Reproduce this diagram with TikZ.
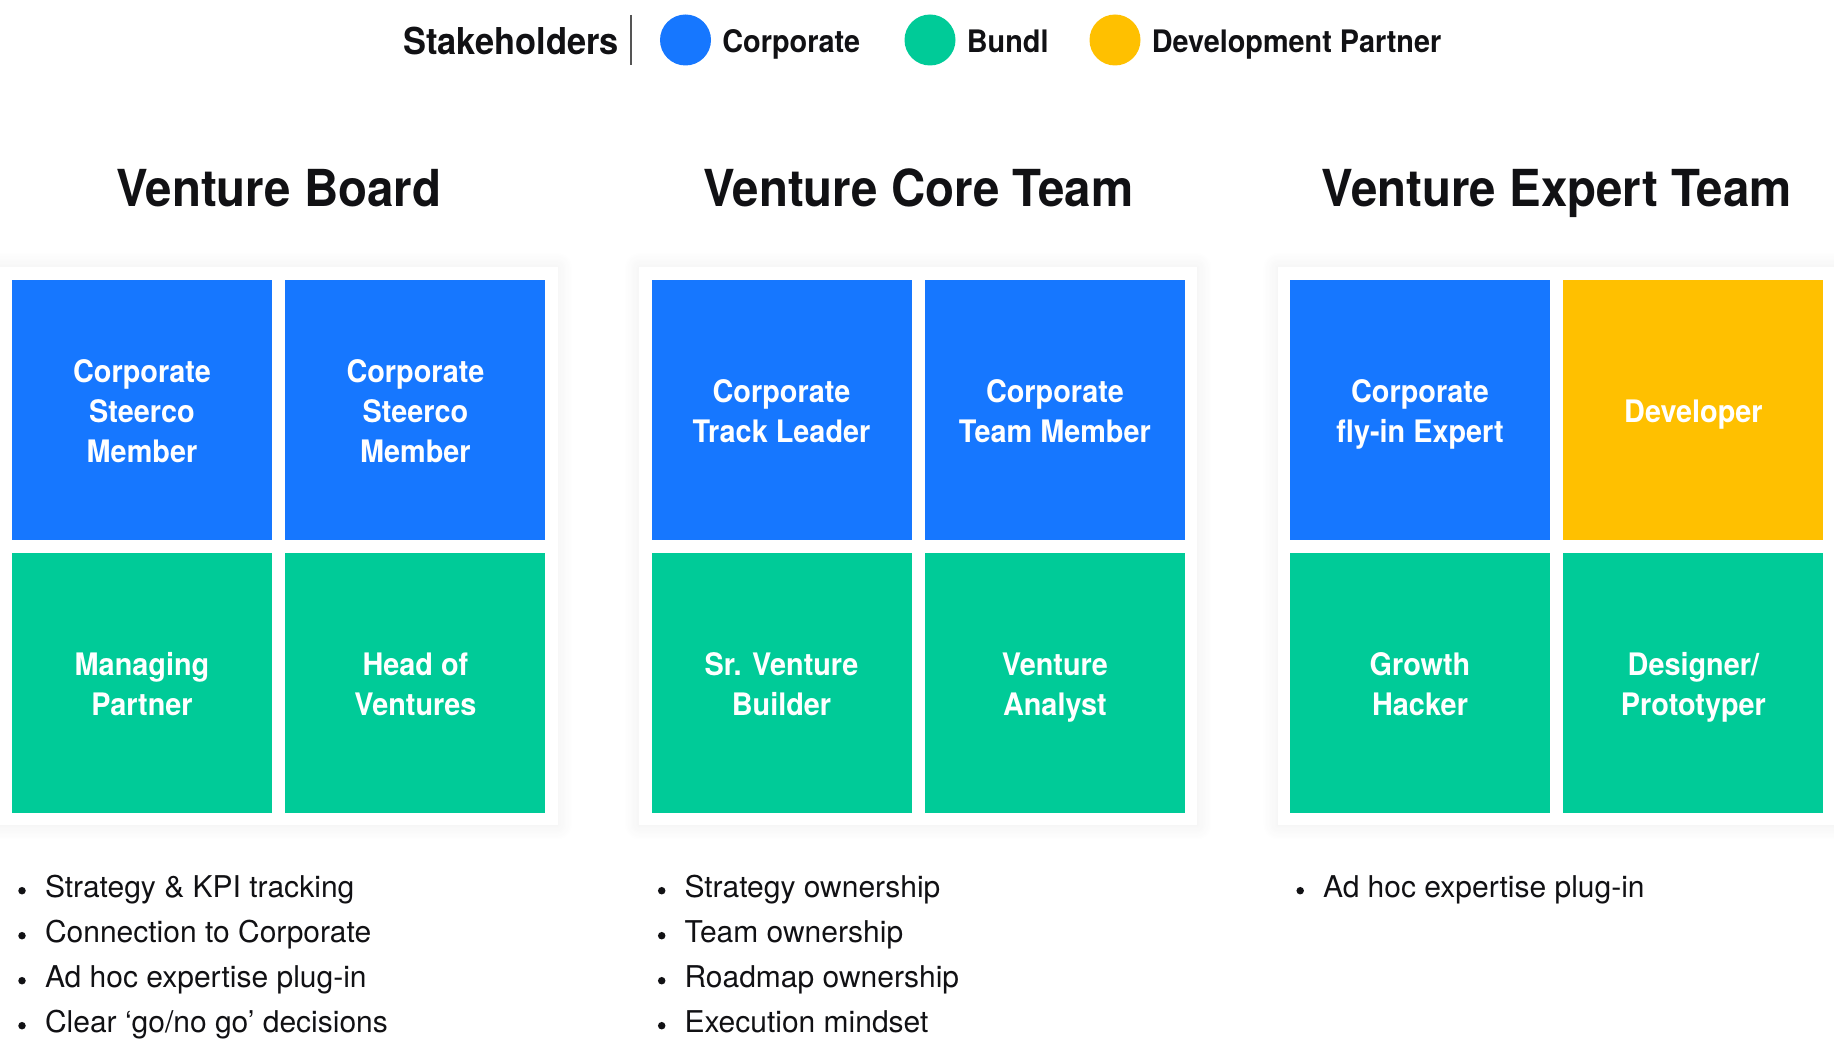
\documentclass[tikz,border=0pt]{standalone}
\usepackage{fontspec}
\setmainfont{TeX Gyre Heros}[BoldFeatures={FakeStretch=0.93}]
\usepackage{tikz}
\usetikzlibrary{positioning,fit,backgrounds,calc,shadows.blur}
\definecolor{Ink}{HTML}{111114}
\definecolor{CorpBlue}{HTML}{1677FF}
\definecolor{BundlGreen}{HTML}{00CB98}
\definecolor{DevYellow}{HTML}{FFC000}
\definecolor{RuleGray}{HTML}{555555}
\newcommand{\topstrut}{\rule{0pt}{34pt}}
\newcommand{\botstrut}{\rule[-8pt]{0pt}{8pt}}

\begin{document}
\begin{tikzpicture}[x=1pt,y=-1pt,
    role/.style={minimum width=260pt,minimum height=260pt,inner sep=0pt,align=center,
      text=white,font=\fontsize{31}{40}\selectfont\bfseries,
      execute at end node=\botstrut},
    corp/.style={role,fill=CorpBlue},
    bundl/.style={role,fill=BundlGreen},
    devp/.style={role,fill=DevYellow},
    panel/.style={fill=white,inner sep=12pt,
      blur shadow={shadow xshift=0pt,shadow yshift=0pt,shadow blur radius=16pt,
        shadow blur extra rounding=0pt,shadow opacity=7,shadow blur steps=12}},
    title/.style={anchor=base,text=Ink,font=\fontsize{51}{60}\selectfont\bfseries},
    legdot/.style={circle,minimum size=51pt,inner sep=0pt},
    legtxt/.style={anchor=base west,inner sep=0pt,text=Ink,font=\fontsize{31}{36}\selectfont\bfseries},
    bul/.style={circle,fill=Ink,minimum size=7.5pt,inner sep=0pt},
    item/.style={anchor=base west,inner sep=0pt,text=Ink,font=\fontsize{30}{36}\selectfont}]
  \useasboundingbox (0,0) rectangle (1834,1043);

  % legend
  \node[legtxt,font=\fontsize{37}{44}\selectfont\bfseries] (stake) at (403,55) {Stakeholders};
  \draw[RuleGray,line width=1.2pt] (631,15) -- (631,65);
  \node[legdot,fill=CorpBlue] (dCorp) at (685.5,40) {};
  \node[legtxt] (lCorp) at ($(dCorp.east)+(11,13)$) {Corporate};
  \node[legdot,fill=BundlGreen] (dBundl) at (930,40) {};
  \node[legtxt] (lBundl) at ($(dBundl.east)+(11,13)$) {Bundl};
  \node[legdot,fill=DevYellow] (dDev) at (1115,40) {};
  \node[legtxt] (lDev) at ($(dDev.east)+(11,13)$) {Development Partner};

  % Venture Board
  \node[corp] (vb11) at (142,409.5) {\topstrut Corporate\\Steerco\\Member};
  \node[corp, right=13pt of vb11] (vb12) {\topstrut Corporate\\Steerco\\Member};
  \node[bundl, below=13pt of vb11] (vb21) {\topstrut Managing\\Partner};
  \node[bundl, below=13pt of vb12] (vb22) {\topstrut Head of\\Ventures};

  % Venture Core Team
  \node[corp] (vc11) at (781.5,409.5) {\topstrut Corporate\\Track Leader};
  \node[corp, right=13pt of vc11] (vc12) {\topstrut Corporate\\Team Member};
  \node[bundl, below=13pt of vc11] (vc21) {\topstrut Sr. Venture\\Builder};
  \node[bundl, below=13pt of vc12] (vc22) {\topstrut Venture\\Analyst};

  % Venture Expert Team
  \node[corp] (ve11) at (1420,409.5) {\topstrut Corporate\\fly-in Expert};
  \node[devp, right=13pt of ve11] (ve12) {\topstrut Developer};
  \node[bundl, below=13pt of ve11] (ve21) {\topstrut Growth\\Hacker};
  \node[bundl, below=13pt of ve12] (ve22) {\topstrut Designer/\\Prototyper};

  \begin{scope}[on background layer]
    \node[panel, fit=(vb11)(vb22)] (pBoard) {};
    \node[panel, fit=(vc11)(vc22)] (pCore) {};
    \node[panel, fit=(ve11)(ve22)] (pExpert) {};
  \end{scope}

  \node[title] (tBoard) at ($(pBoard.north)+(0,-61)$) {Venture Board};
  \node[title] (tCore) at ($(pCore.north)+(0,-61)$) {Venture Core Team};
  \node[title] (tExpert) at ($(pExpert.north)+(0,-61)$) {Venture Expert Team};

  % bullet lists
  \foreach \txt [count=\i from 0] in {Strategy \& KPI tracking,Connection to Corporate,
      Ad hoc expertise plug-in,Clear ‘go/no go’ decisions}{
    \node[bul] (bulB\i) at (22,{890.7+45*\i}) {};
    \node[item] (itemB\i) at (44.8,{897.3+45*\i}) {\txt};
  }
  \foreach \txt [count=\i from 0] in {Strategy ownership,Team ownership,
      Roadmap ownership,Execution mindset}{
    \node[bul] (bulC\i) at (661.7,{890.7+45*\i}) {};
    \node[item] (itemC\i) at (684.3,{897.3+45*\i}) {\txt};
  }
  \node[bul] (bulE0) at (1300.2,890.7) {};
  \node[item] (itemE0) at (1322.8,897.3) {Ad hoc expertise plug-in};
\end{tikzpicture}
\end{document}
